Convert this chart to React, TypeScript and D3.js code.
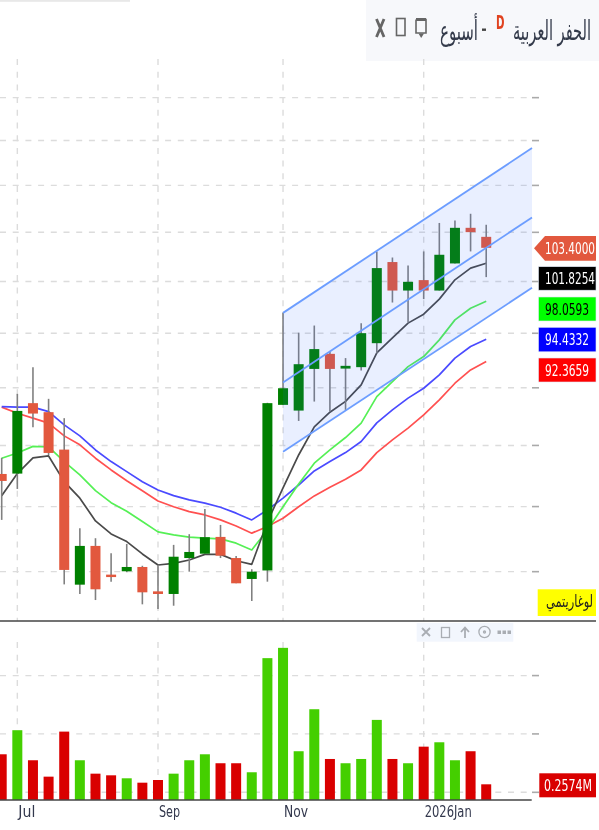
import React, { useLayoutEffect, useRef } from "react";
import * as d3 from "d3";

const opens = [82.63,82.66,88.64,87.85,84.65,74.04,76.94,74.78,75.03,75.35,73.55,73.36,76.02,76.35,77.63,76.02,74.46,75.09,88.49,87.99,91.70,93.08,91.73,91.86,94.07,101.95,99.11,100.14,99.11,101.81,105.47,104.53];
const highs = [83.96,89.46,91.86,89.02,87.33,78.30,77.53,76.38,77.09,75.44,75.50,77.02,77.84,79.81,78.56,76.17,75.18,88.67,96.97,95.06,95.73,93.29,92.69,95.95,103.03,102.41,101.60,103.03,105.98,106.25,106.95,105.79];
const lows = [78.95,81.41,86.55,84.20,74.06,73.36,72.92,74.26,74.96,72.61,72.27,72.51,75.00,76.35,76.02,74.14,72.85,74.26,88.49,87.09,88.78,87.90,88.05,91.55,93.14,97.94,96.01,98.27,99.11,101.81,103.03,100.44];
const closes = [82.06,87.96,87.73,84.37,75.13,76.94,73.70,74.60,75.35,73.48,73.36,76.12,76.48,77.61,76.20,74.14,75.00,88.64,89.96,92.13,93.52,91.70,91.98,95.01,101.34,99.11,99.97,99.11,102.69,105.47,105.02,103.40];

const maBlack = [80.87,82.66,83.96,84.12,82.0,80.67,78.87,77.86,77.27,76.33,75.50,75.62,75.87,76.30,76.30,75.82,75.55,78.79,81.49,84.20,86.58,87.85,88.80,90.26,93.17,94.57,95.96,96.81,98.27,100.17,101.34,101.8254];
const maGreen = [83.93,84.37,84.92,84.87,83.65,82.55,81.27,80.31,79.63,78.82,78.02,77.79,77.61,77.53,77.48,77.15,76.63,78.17,79.99,81.81,83.52,84.62,85.67,86.90,89.22,90.56,91.91,92.83,94.38,96.27,97.39,98.0593];
const maBlue = [88.34,88.29,88.29,87.90,86.75,85.81,84.62,83.65,82.82,82.00,81.33,80.87,80.53,80.27,79.95,79.48,78.95,79.73,80.67,81.73,82.88,83.65,84.40,85.33,86.92,88.05,89.08,89.96,91.16,92.69,93.76,94.4332];
const maRed = [88.29,87.76,87.33,86.90,85.81,85.05,83.93,82.96,82.08,81.27,80.45,79.99,79.60,79.34,78.95,78.48,77.92,78.44,79.08,79.99,80.85,81.55,82.20,82.96,84.40,85.47,86.47,87.61,88.93,90.41,91.61,92.3659];

const volumes = [0.75,1.145,0.652,0.383,1.122,0.652,0.432,0.405,0.356,0.284,0.328,0.432,0.652,0.75,0.603,0.603,0.455,2.327,2.496,0.8,1.489,0.673,0.603,0.673,1.314,0.673,0.603,0.875,0.947,0.652,0.8,0.2574];
const volumeUp = [0,1,0,0,0,1,0,0,1,0,0,1,1,1,0,0,1,1,1,1,1,0,1,1,1,0,1,0,1,1,0,0];

const priceTicks = [75, 80, 85, 90, 95, 100, 105, 110, 115, 120];
const volumeTicks = [0.126, 1.084, 2.041];
const monthLabels = ["Jul", "Sep", "Nov", "2026Jan"];
const monthIndex = [1, 10, 18, 27];
const monthWidths = [17, 21, 24, 47];

const channelIndex = [18, 33.93];
const channelTop = [96.94, 114.15];
const channelMid = [90.47, 106.56];
const channelLow = [84.48, 99.38];

const x = d3.scaleLinear().domain([0, 34]).range([1.7, 533.1]);
const y = d3.scaleLog().domain([132.2, 71.42]).range([0, 621]);
const yVol = d3.scaleLinear().domain([0, 2.92]).range([800, 622]);

const FONT = "'DejaVu Sans', sans-serif";
const BODY_W = 10;
const RED = "#e2583e";
const GREEN = "#008000";
const GRID = "#dcdcdc";
const TICK = "#aaaaaa";

const maLine = d3.line<number>().x((_, i) => x(i)).y((d) => y(d));

// Text squeezed horizontally to a measured width, like the narrow glyphs of the reference.
const Fit = ({ x: px, y: py, width, size, fill, bold, children }: any) => {
  const ref = useRef<SVGTextElement>(null);
  useLayoutEffect(() => {
    const el = ref.current;
    if (!el) return;
    const len = el.getComputedTextLength();
    el.setAttribute("transform", `translate(${px},${py}) scale(${width / len},1)`);
  });
  return (
    <text ref={ref} transform={`translate(${px},${py}) scale(0.7,1)`} fontSize={size} fontFamily={FONT} fill={fill} fontWeight={bold ? "bold" : "normal"}>
      {children}
    </text>
  );
};

const Label = ({ yTop, h, fill, text, color, width }: any) => (
  <g>
    <rect x={538.5} y={yTop} width={57.5} height={h} fill={fill} stroke="#dfe8f5" strokeWidth={0.6} />
    <Fit x={545} y={yTop + h / 2 + 5.8} width={width} size={15.5} fill={color}>{text}</Fit>
  </g>
);

export default function App() {
  const xStart = x(channelIndex[0]);
  const xEnd = x(channelIndex[1]);
  const poly = `M${xStart},${y(channelTop[0])}L${xEnd},${y(channelTop[1])}L${xEnd},${y(channelLow[1])}L${xStart},${y(channelLow[0])}Z`;
  const dash = "6 6.7";
  return (
    <svg
      width={599}
      height={830}
      style={{ position: "absolute", left: 0, top: 0, background: "#fff", filter: "blur(0.6px)" }}
    >
      <rect x={0} y={0} width={130} height={1.8} fill="#e8e8e8" />
      <rect x={366} y={0} width={233} height={61} fill="#f7f8fb" />

      {/* grid */}
      {priceTicks.map((t) => (
        <g key={t}>
          <line x1={0} x2={530} y1={y(t)} y2={y(t)} stroke={GRID} strokeWidth={1.4} strokeDasharray={dash} />
          <line x1={532} x2={539} y1={y(t)} y2={y(t)} stroke={TICK} strokeWidth={1.6} />
        </g>
      ))}
      {monthIndex.map((m) => (
        <line key={m} x1={x(m)} x2={x(m)} y1={59} y2={621} stroke={GRID} strokeWidth={1.4} strokeDasharray={dash} />
      ))}
      {volumeTicks.map((t) => (
        <g key={t}>
          <line x1={0} x2={530} y1={yVol(t)} y2={yVol(t)} stroke={GRID} strokeWidth={1.4} strokeDasharray={dash} />
          <line x1={532} x2={539} y1={yVol(t)} y2={yVol(t)} stroke={TICK} strokeWidth={1.6} />
        </g>
      ))}
      {monthIndex.map((m) => (
        <line key={m} x1={x(m)} x2={x(m)} y1={642} y2={800} stroke={GRID} strokeWidth={1.4} strokeDasharray={dash} />
      ))}

      {/* moving averages */}
      <path d={maLine(maRed) ?? ""} fill="none" stroke="#ff5050" strokeWidth={1.7} strokeLinejoin="round" />
      <path d={maLine(maBlue) ?? ""} fill="none" stroke="#4a4aff" strokeWidth={1.7} strokeLinejoin="round" />
      <path d={maLine(maGreen) ?? ""} fill="none" stroke="#55f055" strokeWidth={1.7} strokeLinejoin="round" />
      <path d={maLine(maBlack) ?? ""} fill="none" stroke="#4a4a4a" strokeWidth={1.7} strokeLinejoin="round" />

      {/* candles */}
      {opens.map((o, i) => {
        const c = closes[i];
        const up = c >= o;
        const t = y(Math.max(o, c));
        const b = y(Math.min(o, c));
        return (
          <g key={i}>
            <line x1={x(i)} x2={x(i)} y1={y(highs[i])} y2={y(lows[i])} stroke="#808080" strokeWidth={1.6} />
            <rect x={x(i) - BODY_W / 2} y={t} width={BODY_W} height={Math.max(b - t, 1.5)} fill={up ? GREEN : RED} />
          </g>
        );
      })}

      {/* channel */}
      <path d={poly} fill="rgba(41,98,255,0.1)" />
      {[channelTop, channelMid, channelLow].map((c, i) => (
        <line key={i} x1={xStart} x2={xEnd} y1={y(c[0])} y2={y(c[1])} stroke="#6c9dff" strokeWidth={1.8} />
      ))}

      {/* pane separator */}
      <line x1={0} x2={596} y1={621} y2={621} stroke="#444" strokeWidth={1.6} />

      {/* volume */}
      {volumes.map((v, i) => (
        <rect
          key={i}
          x={x(i) - BODY_W / 2}
          y={yVol(v)}
          width={BODY_W}
          height={yVol(0) - yVol(v)}
          fill={volumeUp[i] ? "#44cf00" : "#d90000"}
        />
      ))}
      <line x1={0} x2={531.7} y1={800} y2={800} stroke="#444" strokeWidth={1.4} />

      {/* month labels */}
      {monthLabels.map((m, i) => (
        <Fit key={m} x={x(monthIndex[i]) + 1} y={816.5} width={monthWidths[i]} size={15.5} fill="#33384d">{m}</Fit>
      ))}

      {/* price labels */}
      <path d="M534,248.3L545,236H596V260.7H545Z" fill="#e2583e" />
      <Fit x={545} y={254.2} width={50} size={15.5} fill="#fff">103.4000</Fit>
      <Label yTop={266.7} h={23.5} fill="#000" text="101.8254" color="#fff" width={50} />
      <Label yTop={297} h={24} fill="#00ff00" text="98.0593" color="#000" width={44} />
      <Label yTop={327.3} h={24.5} fill="#0000ff" text="94.4332" color="#fff" width={44} />
      <Label yTop={358} h={24} fill="#ff0000" text="92.3659" color="#fff" width={44} />
      <rect x={539.3} y={773.3} width={56.7} height={24} fill="#d90000" />
      <Fit x={544} y={790.8} width={48} size={15.5} fill="#fff">0.2574M</Fit>

      <rect x={537.7} y={589.3} width={58.3} height={26.7} fill="#ffff00" />
      <Fit x={546} y={607} width={47} size={17} fill="#222">لوغاريتمي</Fit>

      {/* volume toolbar */}
      <rect x={416.7} y={623} width={96.6} height={18.7} fill="#f2f6fd" />
      <g stroke="#a9adb3" fill="none" strokeWidth={1.8}>
        <path d="M422,628L430,636M430,628L422,636" />
        <rect x={441.5} y={627.5} width={8} height={10} strokeWidth={1.3} />
        <path d="M465,638V628M461,632L465,627.5L469,632" />
        <circle cx={484.5} cy={632} r={5.6} strokeWidth={1.3} />
        <circle cx={484.5} cy={632} r={1} strokeWidth={1.3} />
      </g>
      <g fill="#a9adb3">
        <rect x={497.5} y={630.5} width={3.5} height={3.5} />
        <rect x={502.5} y={630.5} width={3.5} height={3.5} />
        <rect x={507.5} y={630.5} width={3.5} height={3.5} />
      </g>

      {/* header */}
      <Fit x={513} y={40} width={78} size={27} fill="#333a4a">الحفر العربية</Fit>
      <Fit x={496} y={29} width={8.5} size={20} bold fill="#e0421f">D</Fit>
      <rect x={482} y={28.5} width={4} height={2.4} fill="#444" />
      <Fit x={440} y={40} width={38} size={27} fill="#333a4a">أسبوع</Fit>
      <g stroke="#666" fill="none">
        <path d="M416,19.5H426V33H416V19.5" strokeWidth={1.6} />
        <path d="M416,19.5H426" strokeWidth={3} />
        <rect x={396.5} y={18.5} width={8.5} height={17} strokeWidth={1.6} />
        <path d="M376.5,19L384,37M384,19L376.5,37" strokeWidth={2.8} />
      </g>
      <path d="M418.5,33.5H424L421.2,38Z" fill="#666" />
    </svg>
  );
}
